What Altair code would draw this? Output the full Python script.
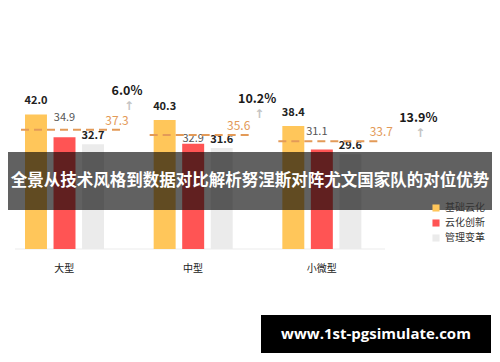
import altair as alt
import pandas as pd

groups = ["大型", "中型", "小微型"]
series = ["基础云化", "云化创新", "管理变革"]
base_values = [42.0, 40.3, 38.4]
innovation_values = [34.9, 32.9, 31.1]
management_values = [32.7, 31.6, 29.6]
average_values = [37.3, 35.6, 33.7]
growth_labels = ["6.0%", "10.2%", "13.9%"]
banner_text = "全景从技术风格到数据对比解析努涅斯对阵尤文国家队的对位优势"
watermark_text = "www.1st-pgsimulate.com"

colors = ["#FFC65A", "#FF5454", "#EBEBEB"]
AVG_COLOR = "#E39A58"
FONT = "Noto Sans CJK SC"

rows = []
for gi, g in enumerate(groups):
    for s, vals in zip(series, [base_values, innovation_values, management_values]):
        rows.append({"group": g, "series": s, "value": vals[gi]})
bars_df = pd.DataFrame(rows)
avg_df = pd.DataFrame({"group": groups, "avg": average_values, "growth": growth_labels})

x_axis = alt.Axis(title=None, domain=False, ticks=False, labelAngle=0, labelOffset=-25,
                  labelPadding=14, labelFontSize=10, labelColor="#222", labelFont=FONT)
x_scale = alt.Scale(paddingInner=0, paddingOuter=0)
y_scale = alt.Scale(domain=[0, 60])
xoff = alt.XOffset("series:N", sort=series,
                   scale=alt.Scale(paddingInner=0.23, paddingOuter=0.87, align=0))


def X(bp=None):
    if bp is None:
        return alt.X("group:N", sort=groups, scale=x_scale, axis=x_axis)
    return alt.X("group:N", sort=groups, scale=x_scale, axis=x_axis, bandPosition=bp)


bars = alt.Chart(bars_df).mark_bar().encode(
    x=X(), xOffset=xoff,
    y=alt.Y("value:Q", scale=y_scale, axis=None),
    color=alt.Color("series:N", sort=series,
                    scale=alt.Scale(domain=series, range=colors),
                    legend=alt.Legend(orient="none", legendX=406, legendY=146, title=None,
                                      symbolType="square", symbolSize=50, labelFontSize=10,
                                      labelFont=FONT, labelColor="#333", rowPadding=5,
                                      symbolStrokeWidth=0)),
)

layers = [bars]

# value labels per series
label_style = {
    "基础云化": dict(color="#222", fontWeight=600, dy=-13.5),
    "云化创新": dict(color="#555", fontWeight="normal", dy=-15),
    "管理变革": dict(color="#222", fontWeight=600, dy=-8),
}
red_nudges = [(0, -19), (0, -5), (-5, -17)]
for s in series:
    st = label_style[s]
    if s == "云化创新":
        for g, (ddx, ddy) in zip(groups, red_nudges):
            layers.append(
                alt.Chart(bars_df).transform_filter(
                    (alt.datum.series == s) & (alt.datum.group == g)
                ).mark_text(font=FONT, fontSize=11, baseline="middle", color=st["color"],
                            fontWeight=st["fontWeight"], dx=ddx, dy=ddy).encode(
                    x=X(), xOffset=xoff,
                    y=alt.Y("value:Q", scale=y_scale, axis=None),
                    text=alt.Text("value:Q", format=".1f"))
            )
    else:
        layers.append(
            alt.Chart(bars_df).transform_filter(alt.datum.series == s).mark_text(
                font=FONT, fontSize=11, baseline="middle", color=st["color"],
                fontWeight=st["fontWeight"], dy=st["dy"]).encode(
                x=X(), xOffset=xoff,
                y=alt.Y("value:Q", scale=y_scale, axis=None),
                text=alt.Text("value:Q", format=".1f"))
        )

# dashed average lines
layers.append(
    alt.Chart(avg_df).mark_rule(strokeDash=[8, 5], strokeWidth=2, color=AVG_COLOR,
                                xOffset=-4, x2Offset=96).encode(
        x=X(0), x2=alt.X2("group:N", bandPosition=0),
        y=alt.Y("avg:Q", scale=y_scale, axis=None))
)

avg_dx = [92, 85, 99]
pct_pos = [(102, -38.5), (103.5, -36), (136, -23)]
for g, adx, (pdx, pdy) in zip(groups, avg_dx, pct_pos):
    base = alt.Chart(avg_df).transform_filter(alt.datum.group == g)
    layers.append(base.mark_text(font=FONT, fontSize=12, color=AVG_COLOR, baseline="middle",
                                 dx=adx, dy=-9).encode(
        x=X(0), y=alt.Y("avg:Q", scale=y_scale, axis=None),
        text=alt.Text("avg:Q", format=".1f")))
    layers.append(base.mark_text(font=FONT, fontSize=12.5, fontWeight="bold", color="#1a1a1a",
                                 baseline="middle", dx=pdx, dy=pdy).encode(
        x=X(0), y=alt.Y("avg:Q", scale=y_scale, axis=None), text="growth:N"))
    layers.append(base.mark_text(font="DejaVu Sans", fontSize=12, fontWeight="bold",
                                 color="#C4C4C4", baseline="middle",
                                 dx=pdx + 2, dy=pdy + 15).encode(
        x=X(0), y=alt.Y("avg:Q", scale=y_scale, axis=None), text=alt.value("↑")))

# banner overlay
banner_df = pd.DataFrame({"t": [banner_text]})
layers.append(alt.Chart(banner_df).mark_rect(color="black", opacity=0.62).encode(
    x=alt.value(-22), x2=alt.value(472), y=alt.value(95), y2=alt.value(153)))
layers.append(alt.Chart(banner_df).mark_text(font=FONT, fontSize=16.5, fontWeight="bold",
                                             color="white", baseline="middle", align="center").encode(
    x=alt.value(225), y=alt.value(124), text="t:N"))

# watermark
wm_df = pd.DataFrame({"t": [watermark_text]})
layers.append(alt.Chart(wm_df).mark_rect(color="black").encode(
    x=alt.value(236), x2=alt.value(466), y=alt.value(258), y2=alt.value(296)))
layers.append(alt.Chart(wm_df).mark_text(font="Open Sans", fontSize=15, fontWeight="bold",
                                         color="white", baseline="middle", align="center").encode(
    x=alt.value(351), y=alt.value(277), text="t:N"))

# baseline
layers.insert(0, alt.Chart(wm_df).mark_rule(color="#EBEBEB", strokeWidth=1).encode(
    x=alt.value(-10), x2=alt.value(360), y=alt.value(192)))

chart = alt.layer(*layers).properties(
    width=386, height=192,
    autosize=alt.AutoSizeParams(type="none"),
    padding={"left": 17, "right": 81, "top": 49, "bottom": 105},
    background="white",
).configure_view(stroke=None)

chart.save("out.html", embed_options={"renderer": "svg", "actions": False})
